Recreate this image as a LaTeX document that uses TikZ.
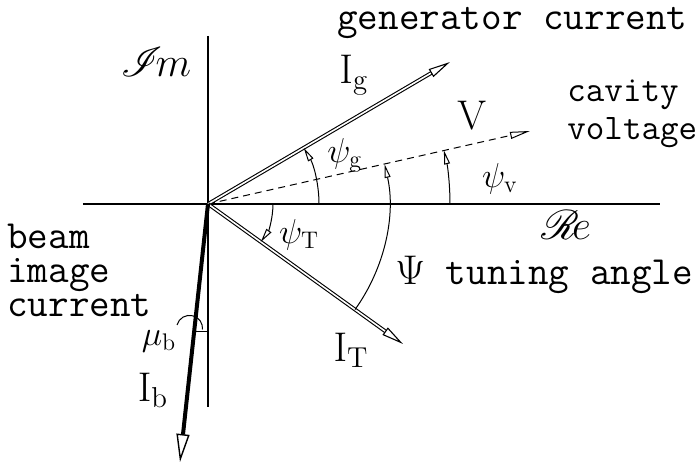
\documentclass[tikz,border=0pt]{standalone}
\usepackage{amsmath,amssymb}
\usepackage{mathrsfs}
\usepackage{tikz}
\usetikzlibrary{arrows.meta}
\definecolor{phInk}{RGB}{0,0,0}

\tikzset{
    axisline/.style={phInk, line width=0.7pt},
    vecline/.style={phInk, double, double distance=0.8pt, line width=0.55pt,
        -{Triangle[open,length=11pt,width=4.5pt]}},
    beamline/.style={phInk, line width=2pt,
        -{Triangle[open,length=14pt,width=6.5pt,line width=0.7pt]}},
    voltline/.style={phInk, line width=0.5pt, dash pattern=on 3.5pt off 2.5pt,
        -{Triangle[open,length=10pt,width=3.5pt]}},
    anglearc/.style={phInk, line width=0.5pt, -{Triangle[open,length=7pt,width=3pt]}},
    ttlabel/.style={inner sep=0pt, font=\fontsize{20}{17}\ttfamily},
    veclabel/.style={inner sep=0pt, font=\fontsize{22}{26}\selectfont},
    anglabel/.style={inner sep=0pt, font=\fontsize{18}{22}\selectfont}
}

\begin{document}
\begin{tikzpicture}[x=0.5pt,y=0.5pt]
    \useasboundingbox (-208,-261) rectangle (490,204);

    % axes
    \coordinate (O) at (0,0);
    \coordinate (reL) at (-125,0);
    \coordinate (reR) at (452,0);
    \coordinate (imT) at (0,168);
    \coordinate (imB) at (0,-203);
    \draw[axisline] (reL) -- (reR);
    \draw[axisline] (imT) -- (imB);
    \node[inner sep=0pt, font=\fontsize{20}{24}\selectfont] (imLab) at (-52,142) {$\mathscr{I}\!m$};
    \node[inner sep=0pt, font=\fontsize{20}{24}\selectfont] (reLab) at (358,-21) {$\mathscr{R}\!e$};

    % phasors
    \coordinate (Ig) at (242,142);
    \coordinate (V) at (322,73);
    \coordinate (IT) at (195,-140);
    \coordinate (Ib) at (-28,-258);
    \draw[voltline] (O) -- (V);
    \draw[vecline] (O) -- (Ig);
    \draw[vecline] (O) -- (IT);
    \draw[beamline] (O) -- (Ib);

    % angles
    \draw[anglearc] (0:111) arc[start angle=0, end angle=30.4, radius=111];
    \draw[anglearc] (0:242) arc[start angle=0, end angle=12.8, radius=242];
    \draw[anglearc] (0:65) arc[start angle=0, end angle=-35.7, radius=65];
    \draw[anglearc] (-35.7:181) arc[start angle=-35.7, end angle=12.8, radius=181];
    \draw[phInk, line width=0.5pt] (-31,-121) arc[start angle=165, end angle=-5, radius=13];
    \coordinate (muL) at (-14.6,-128);
    \coordinate (muR) at (1,-128);
    \draw[phInk, line width=0.5pt] (muL) -- (muR);

    % labels
    \node[ttlabel, anchor=base west] (genLab) at (129,174) {generator current};
    \node[ttlabel, font=\fontsize{18}{17}\ttfamily, anchor=base west, align=left] (cavLab) at (359,64) {cavity\\[2pt]voltage};
    \node[ttlabel, anchor=base west, align=left] (beamLab) at (-201,-113) {beam\\image\\current};
    \node[ttlabel, anchor=base west] (tunLab) at (187,-81) {$\Psi$ tuning angle};

    \node[veclabel] (IgLab) at (146,129) {$\mathrm{I}_{\mathrm{g}}$};
    \node[veclabel] (VLab) at (264,89) {$\mathrm{V}$};
    \node[veclabel] (ITLab) at (143,-146) {$\mathrm{I}_{\mathrm{T}}$};
    \node[veclabel] (IbLab) at (-55,-186) {$\mathrm{I}_{\mathrm{b}}$};

    \node[anglabel] (psigLab) at (137,49) {$\psi_{\mathrm{g}}$};
    \node[anglabel] (psivLab) at (292,25) {$\psi_{\mathrm{v}}$};
    \node[anglabel] (psiTLab) at (91,-31) {$\psi_{\mathrm{T}}$};
    \node[anglabel] (mubLab) at (-49,-137) {$\mu_{\mathrm{b}}$};
\end{tikzpicture}
\end{document}
